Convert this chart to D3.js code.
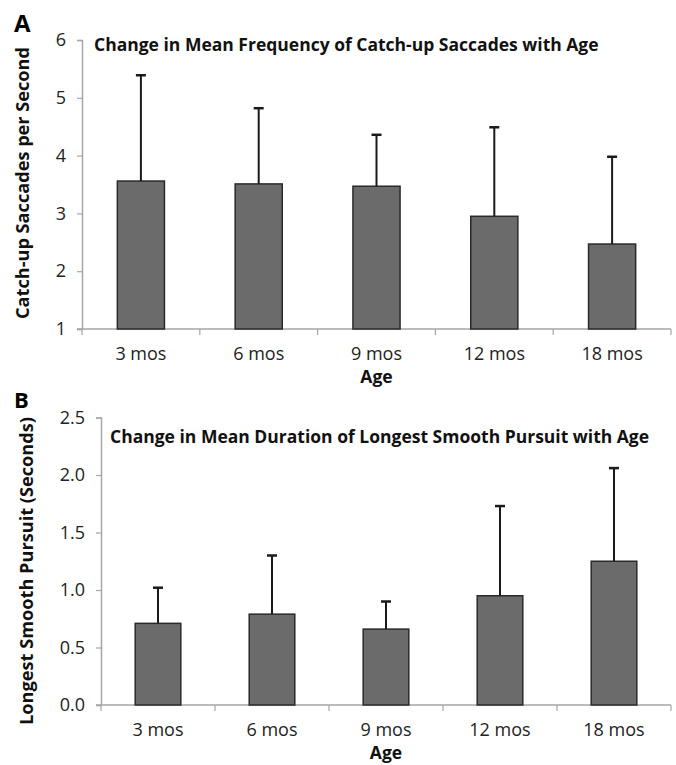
<!DOCTYPE html>
<html>
<head>
<meta charset="utf-8">
<script src="https://cdn.jsdelivr.net/npm/d3@7"></script>
<style>
  body { margin: 0; background: #fff; }
  svg { font-family: "Open Sans", sans-serif; }
</style>
</head>
<body>
<svg id="chart" width="676" height="765"></svg>
<script>
// data
const ages = ["3 mos", "6 mos", "9 mos", "12 mos", "18 mos"];

const saccadeMean = [3.56, 3.51, 3.47, 2.95, 2.47];
const saccadeUpper = [5.39, 4.82, 4.36, 4.49, 3.98];
const saccadeTicks = [1, 2, 3, 4, 5, 6];

const pursuitMean = [0.71, 0.79, 0.66, 0.95, 1.25];
const pursuitUpper = [1.02, 1.30, 0.90, 1.73, 2.06];
const pursuitTicks = [0, 0.5, 1.0, 1.5, 2.0, 2.5];

const svg = d3.select("#chart");

function drawPanel(opt) {
  const x = d3.scaleBand().domain(ages).range([opt.x0, opt.x1]).paddingInner(0.6).paddingOuter(0.3);
  const band = d3.scaleBand().domain(ages).range([opt.x0, opt.x1]);
  const y = d3.scaleLinear().domain(opt.domain).range([opt.y0, opt.y1]);

  const g = svg.append("g");

  // y axis
  const yAxis = g.append("g")
    .attr("transform", `translate(${opt.x0},0)`)
    .call(d3.axisLeft(y).tickValues(opt.ticks).tickFormat(opt.fmt).tickSize(5).tickPadding(11));
  yAxis.select(".domain").attr("stroke", "#a6a6a6").attr("stroke-width", 1.5);
  yAxis.selectAll(".tick line").attr("stroke", "#a6a6a6").attr("stroke-width", 1.2);
  yAxis.selectAll(".tick text").attr("font-size", 18).attr("fill", "#222")
    .attr("font-family", "Open Sans, sans-serif");

  // x axis line, ticks at category boundaries
  const xg = g.append("g");
  xg.append("line")
    .attr("x1", opt.x0 - 5).attr("x2", opt.x1)
    .attr("y1", opt.y0).attr("y2", opt.y0)
    .attr("stroke", "#a6a6a6").attr("stroke-width", 1.5);
  const bounds = ages.map(a => band(a)).concat([opt.x1]);
  xg.selectAll("line.bt").data(bounds).enter().append("line")
    .attr("class", "bt")
    .attr("x1", d => d).attr("x2", d => d)
    .attr("y1", opt.y0).attr("y2", opt.y0 + 6)
    .attr("stroke", "#a6a6a6").attr("stroke-width", 1.2);
  xg.selectAll("text").data(ages).enter().append("text")
    .attr("x", d => band(d) + band.bandwidth() / 2)
    .attr("y", opt.y0 + 31)
    .attr("text-anchor", "middle")
    .attr("font-size", 18).attr("fill", "#222")
    .text(d => d);

  // bars
  g.selectAll("rect.bar").data(opt.mean).enter().append("rect")
    .attr("class", "bar")
    .attr("x", (d, i) => x(ages[i]))
    .attr("width", x.bandwidth())
    .attr("y", d => y(d))
    .attr("height", d => y(opt.domain[0]) - y(d))
    .attr("fill", "#6b6b6b")
    .attr("stroke", "#2a2a2a")
    .attr("stroke-width", 1.5);

  // upper error bars
  const eb = g.selectAll("g.err").data(opt.upper).enter().append("g").attr("class", "err");
  eb.append("line")
    .attr("x1", (d, i) => x(ages[i]) + x.bandwidth() / 2)
    .attr("x2", (d, i) => x(ages[i]) + x.bandwidth() / 2)
    .attr("y1", (d, i) => y(opt.mean[i]))
    .attr("y2", d => y(d))
    .attr("stroke", "#1a1a1a").attr("stroke-width", 2);
  eb.append("line")
    .attr("x1", (d, i) => x(ages[i]) + x.bandwidth() / 2 - 5)
    .attr("x2", (d, i) => x(ages[i]) + x.bandwidth() / 2 + 5)
    .attr("y1", d => y(d)).attr("y2", d => y(d))
    .attr("stroke", "#1a1a1a").attr("stroke-width", 2.5);

  // texts
  g.append("text")
    .attr("x", opt.titleX).attr("y", opt.titleY)
    .attr("font-size", 17.5).attr("font-weight", "bold").attr("fill", "#111")
    .text(opt.title);

  g.append("text")
    .attr("x", 14).attr("y", opt.letterY)
    .attr("font-size", opt.letterSize).attr("font-weight", "bold").attr("fill", "#000")
    .text(opt.letter);

  g.append("text")
    .attr("transform", `translate(${opt.ylabX},${opt.ylabMid}) rotate(-90)`)
    .attr("text-anchor", "middle")
    .attr("font-size", 18).attr("font-weight", "bold").attr("fill", "#111")
    .attr("textLength", opt.ylabLen).attr("lengthAdjust", "spacingAndGlyphs")
    .text(opt.ylab);

  g.append("text")
    .attr("x", (opt.x0 + opt.x1) / 2).attr("y", opt.y0 + 54)
    .attr("text-anchor", "middle")
    .attr("font-size", 17.5).attr("font-weight", "bold").attr("fill", "#111")
    .text("Age");
}

drawPanel({
  x0: 82, x1: 671, y0: 329, y1: 40,
  domain: [1, 6], ticks: saccadeTicks, fmt: d3.format("d"),
  mean: saccadeMean, upper: saccadeUpper,
  title: "Change in Mean Frequency of Catch-up Saccades with Age",
  titleX: 94, titleY: 51,
  letter: "A", letterY: 32, letterSize: 24,
  ylab: "Catch-up Saccades per Second", ylabX: 29, ylabMid: 183, ylabLen: 272
});

drawPanel({
  x0: 101, x1: 671, y0: 705, y1: 417.5,
  domain: [0, 2.5], ticks: pursuitTicks, fmt: d3.format(".1f"),
  mean: pursuitMean, upper: pursuitUpper,
  title: "Change in Mean Duration of Longest Smooth Pursuit with Age",
  titleX: 110, titleY: 443,
  letter: "B", letterY: 408, letterSize: 22,
  ylab: "Longest Smooth Pursuit (Seconds)", ylabX: 33, ylabMid: 571, ylabLen: 308
});
</script>
</body>
</html>
